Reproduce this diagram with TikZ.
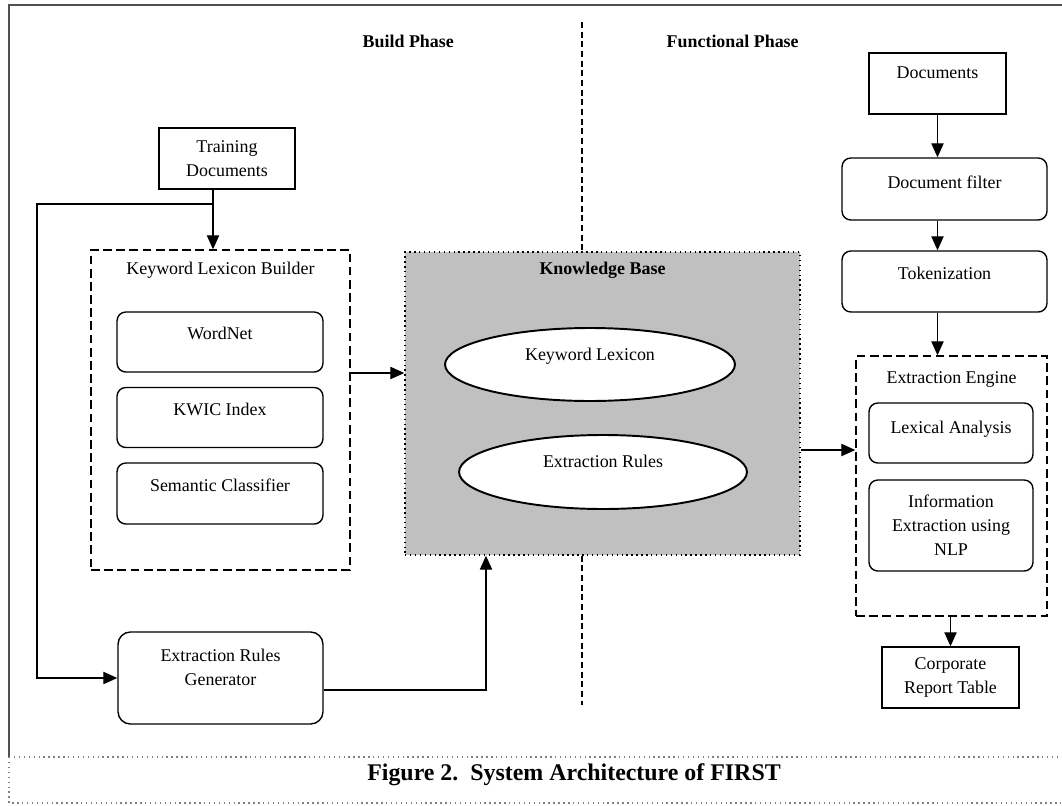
\documentclass[tikz,border=0pt]{standalone}
\usepackage{fontspec}
\setmainfont{Liberation Serif}
\usetikzlibrary{shapes,arrows,arrows.meta,positioning}
\definecolor{kbgray}{HTML}{C0C0C0}
\definecolor{framegray}{HTML}{505050}

\begin{document}
\begin{tikzpicture}[x=0.02cm,y=-0.02cm,line width=0.8pt,
    font=\fontsize{10.2}{13.7}\selectfont,
    >={Triangle[length=8pt,width=7pt]},
    box/.style={draw,rectangle,align=center,inner sep=0pt},
    rbox/.style={draw,rectangle,rounded corners=5pt,align=center,inner sep=0pt},
    dbox/.style={draw,dashed,dash pattern=on 5pt off 2.5pt,inner sep=0pt},
    oval/.style={draw,ellipse,fill=white,line width=1.1pt,inner sep=0pt},
    textup/.style={text height=0.25cm,text depth=#1}]
\useasboundingbox (0,0) rectangle (1062,805);

\draw[framegray,line width=1.2pt] (1062,5) -- (9,5) -- (9,757);
\draw[dotted,gray] (9,757) -- (1062,757) (9,757) -- (9,803) -- (1062,803);

\node[font=\fontsize{10.2}{13.7}\bfseries,anchor=west,inner sep=0pt] (build) at (362,41) {Build Phase};
\node[font=\fontsize{10.2}{13.7}\bfseries,anchor=west,inner sep=0pt] (func) at (666,41) {Functional Phase};

\node[box,minimum width=2.72cm,minimum height=1.22cm] (train) at (227,158.5) {Training\\Documents};
\node[dbox,minimum width=5.18cm,minimum height=6.4cm,
      label={[anchor=north,yshift=-0.12cm]north:Keyword Lexicon Builder}] (klb) at (220.5,410) {};
\node[rbox,minimum width=4.12cm,minimum height=1.2cm,textup=0.37cm] (wordnet) at (220,342) {WordNet};
\node[rbox,minimum width=4.12cm,minimum height=1.2cm,textup=0.33cm] (kwic) at (220,417.5) {KWIC Index};
\node[rbox,minimum width=4.12cm,minimum height=1.22cm,textup=0.33cm] (semantic) at (220,493.5) {Semantic Classifier};
\node[rbox,rounded corners=7pt,minimum width=4.1cm,minimum height=1.84cm,text depth=0.44cm] (erg) at (220.5,678) {Extraction Rules\\Generator};

\node[draw,dotted,fill=kbgray,minimum width=7.9cm,minimum height=6.06cm,inner sep=0pt,
      label={[anchor=north,yshift=-0.08cm,font=\fontsize{10.2}{13.7}\bfseries]north:Knowledge Base}] (kb) at (602.5,403.5) {};
\node[oval,minimum width=5.8cm,minimum height=1.46cm,textup=0.41cm] (kl) at (590,364.5) {Keyword Lexicon};
\node[oval,minimum width=5.76cm,minimum height=1.48cm,textup=0.43cm] (er) at (603,472) {Extraction Rules};

\node[box,minimum width=2.74cm,minimum height=1.22cm,textup=0.45cm] (docs) at (937.5,83.5) {Documents};
\node[rbox,minimum width=4.1cm,minimum height=1.24cm,textup=0.29cm] (filter) at (944.5,189) {Document filter};
\node[rbox,minimum width=4.1cm,minimum height=1.22cm,textup=0.33cm] (token) at (944.5,281.5) {Tokenization};
\node[dbox,minimum width=3.82cm,minimum height=5.2cm,
      label={[anchor=north,yshift=-0.2cm]north:Extraction Engine}] (ee) at (951.5,486) {};
\node[rbox,minimum width=3.28cm,minimum height=1.2cm,textup=0.25cm] (lex) at (951,433) {Lexical Analysis};
\node[rbox,minimum width=3.28cm,minimum height=1.82cm] (info) at (951,525.5) {Information\\Extraction using\\NLP};
\node[box,minimum width=2.74cm,minimum height=1.22cm] (corp) at (950.5,677.5) {Corporate\\Report Table};

\node[font=\fontsize{13.6}{15}\bfseries] (caption) at (574,775) {Figure 2.\ \ System Architecture of FIRST};

\draw[dashed,dash pattern=on 3.5pt off 2pt,line width=0.6pt] (582,22) -- (kb.north -| 582,0);
\draw[dashed,dash pattern=on 3.5pt off 2pt,line width=0.6pt] (kb.south -| 582,0) -- (582,705);

\coordinate (split) at (213,204);
\coordinate (lft) at (37,204);
\coordinate (kbin) at (486,690);
\draw (train.south -| split) -- (split);
\draw[->] (split) -- (split |- klb.north);
\draw[->] (split) -- (lft) |- (erg.west);
\draw[->] (klb.east |- 0,373) -- (kb.west |- 0,373);
\draw[->] (erg.east |- kbin) -- (kbin) -- (kbin |- kb.south);
\draw[->] (kb.east |- 0,450) -- (ee.west |- 0,450);
\draw[->] (docs.south) -- (docs.south |- filter.north);
\draw[->] (filter.south -| docs.south) -- (docs.south |- token.north);
\draw[->] (token.south -| docs.south) -- (docs.south |- ee.north);
\draw[->] (ee.south -| corp.north) -- (corp.north);
\end{tikzpicture}
\end{document}
